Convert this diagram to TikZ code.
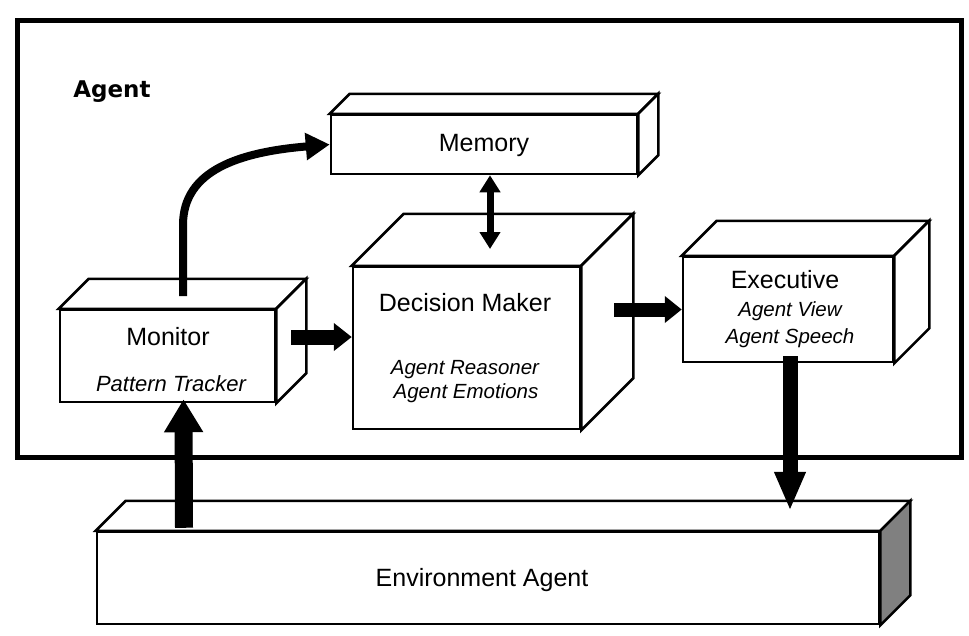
\documentclass[tikz,border=0pt]{standalone}
\usepackage{fontspec}
\setmainfont{Liberation Sans}
\newfontfamily\agentfont{DejaVu Sans}
\usetikzlibrary{arrows.meta}

% top and right faces of a box whose front face is a node
\newcommand{\boxfaces}[3][white]{%
\draw[boxface] (#2.north west) -- ++(#3,-#3) -- ([shift={(#3,-#3)}]#2.north east) -- (#2.north east) -- cycle;
\draw[boxface,fill=#1] (#2.north east) -- ([shift={(#3,-#3)}]#2.north east) -- ([shift={(#3,-#3)}]#2.south east) -- (#2.south east) -- cycle;
}

\begin{document}
\begin{tikzpicture}[x=1pt,y=-1pt,
  boxface/.style={draw=black,line width=2.5pt,fill=white,line join=miter},
  front/.style={boxface,rectangle,inner sep=0pt},
  bigtxt/.style={font=\fontsize{25}{30}\selectfont},
  smalltxt/.style={font=\fontsize{20.5}{24}\selectfont\itshape},
  fatarrow/.style={draw=black,line width=#1}]
\definecolor{envside}{rgb}{0.5,0.5,0.5}
\useasboundingbox (0,0) rectangle (969,635);
% agent frame
\draw[line width=5pt] (17,20) rectangle (961,457);
\node[font=\agentfont\fontsize{23}{27}\selectfont\bfseries] (agentlab) at (112,92) {Agent};
% boxes
\node[front,minimum width=306pt,minimum height=59pt] (mem) at (484,144.5) {};
\boxfaces{mem}{20}
\node[front,minimum width=227pt,minimum height=162pt] (dec) at (466.5,348) {};
\boxfaces{dec}{52}
\node[front,minimum width=215pt,minimum height=92pt] (mon) at (167.5,356) {};
\boxfaces{mon}{30}
\node[front,minimum width=210pt,minimum height=105pt] (exe) at (788,309.5) {};
\boxfaces{exe}{35}
\node[front,minimum width=782pt,minimum height=92pt] (env) at (488,578) {};
\boxfaces[envside]{env}{30}
% labels
\node[bigtxt] (memlab) at (484,145) {Memory};
\node[bigtxt] (declab) at (465,303) {Decision Maker};
\node[smalltxt] (reaslab) at (465,370) {Agent Reasoner};
\node[smalltxt] (emolab) at (466,393) {Agent Emotions};
\node[bigtxt] (monlab) at (168,337) {Monitor};
\node[smalltxt,font=\fontsize{22}{26}\selectfont\itshape] (patlab) at (171,384) {Pattern Tracker};
\node[bigtxt] (exelab) at (785,280) {Executive};
\node[smalltxt] (viewlab) at (790,311) {Agent View};
\node[smalltxt] (speechlab) at (790,338) {Agent Speech};
\node[bigtxt] (envlab) at (482,580) {Environment Agent};
% arrows
\coordinate (montop) at (183,296);
\coordinate (dectop) at (490,249);
\draw[fatarrow=8pt,-{Triangle[width=26pt,length=24pt]}] (montop) -- (183,225) .. controls (183,170) and (240,152) .. (mem.west);
\draw[fatarrow=7pt,{Triangle[width=20pt,length=17pt]}-{Triangle[width=20pt,length=17pt]}] ([xshift=6pt]mem.south) -- (dectop);
\draw[fatarrow=15pt,-{Triangle[width=27pt,length=18pt]}] ([xshift=15pt,yshift=19pt]mon.east) -- ([yshift=11pt]dec.west);
\draw[fatarrow=14pt,-{Triangle[width=26pt,length=17pt]}] ([xshift=33pt,yshift=38.5pt]dec.east) -- (exe.west);
\draw[fatarrow=18pt,-{Triangle[width=37pt,length=33pt]}] ([xshift=-304pt,yshift=3pt]env.north) -- ([xshift=16pt,yshift=4pt]mon.south);
\draw[fatarrow=15pt,-{Triangle[width=29pt,length=39pt]}] ([xshift=2pt,yshift=7pt]exe.south) -- ([xshift=302pt,yshift=20pt]env.north);
\end{tikzpicture}
\end{document}
